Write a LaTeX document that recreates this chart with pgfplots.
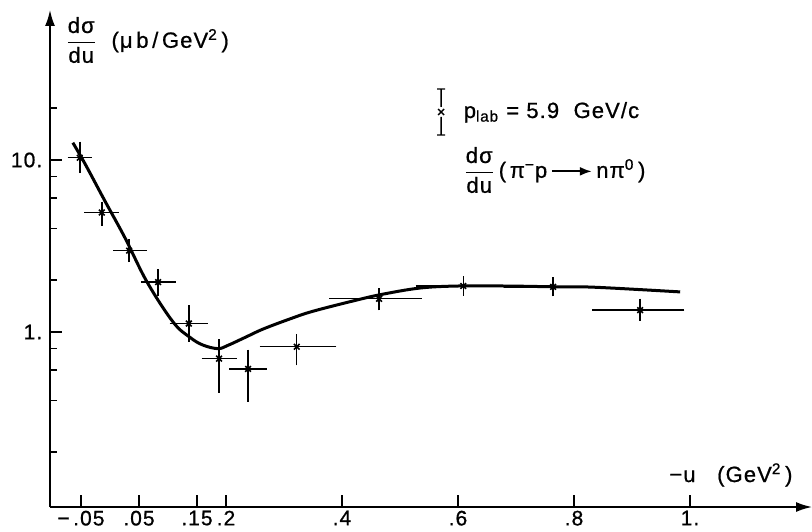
\documentclass[border=0pt]{standalone}
\usepackage{fontspec}
\setmainfont{Liberation Sans}[LetterSpace=5, FakeBold=0.8]
\usepackage{pgfplots}
\pgfplotsset{compat=1.18}
\usepackage{pgfplotstable}
\usetikzlibrary{calc,arrows.meta}

% -u, dsigma/du, asymmetric errors
\pgfplotstableread{
x       y      exm    exp    eym    eyp
-0.052  10.3   0.015  0.014  1.5    1.9
-0.014  4.95   0.024  0.023  0.6    0.5
 0.033  2.97   0.021  0.024  0.30   0.33
 0.083  1.95   0.023  0.024  0.24   0.25
 0.136  1.12   0.027  0.026  0.20   0.24
 0.188  0.70   0.024  0.024  0.235  0.165
 0.238  0.61   0.026  0.026  0.197  0.143
 0.322  0.82   0.058  0.062  0.15   0.11
 0.464  1.56   0.080  0.067  0.16   0.15
 0.609  1.85   0.076  0.077  0.14   0.16
 0.764  1.83   0.078  0.072  0.14   0.15
 0.914  1.34   0.076  0.070  0.12   0.15
}\datatable

\newcommand{\dsdu}{$\displaystyle\frac{\mbox{dσ}}{\mbox{du}}$}

\begin{document}
\fontsize{11}{13}\selectfont
\begin{tikzpicture}
\begin{axis}[name=ax, scale only axis, width=381pt, height=248.5pt,
  ymode=log, xmin=-0.1034, xmax=1.2103, ymin=0.096, ymax=74.5,
  axis lines=left, clip=false,
  axis line style={line width=0.9pt, -{Latex[length=8pt,width=5pt]}},
  tick align=inside, major tick length=6pt, minor tick length=3.5pt,
  tick style={line width=0.75pt, black},
  tick label style={font=\fontsize{10.5}{12}\selectfont},
  xticklabel style={yshift=2pt},
  xtick={-0.05,0.05,0.15,0.2,0.4,0.6,0.8,1},
  xticklabels={\mbox{−\,.05},\mbox{.05},\mbox{.15},\mbox{.2},\mbox{.4},\mbox{.6},\mbox{.8},\mbox{1.}},
  ytick={1,10}, yticklabels={\mbox{1.},\mbox{10.}},
  minor ytick={0.2,0.4,0.6,0.8,2,4,6,8,20}]
  \addplot[line width=1.5pt, smooth, tension=0.6] coordinates {
    (-0.064,12.6)(-0.043,9.5)(-0.009,5.8)(0.026,3.52)(0.064,1.95)(0.109,1.14)
    (0.138,0.93)(0.160,0.84)(0.186,0.80)(0.203,0.835)(0.2345,0.935)(0.264,1.04)
    (0.310,1.19)(0.35,1.32)(0.426,1.535)(0.471,1.66)(0.534,1.80)(0.598,1.85)
    (0.684,1.85)(0.771,1.83)(0.836,1.82)(0.983,1.71)};
  \addplot[only marks, mark=x, mark size=2pt, line width=0.8pt,
    error bars/.cd, x dir=both, x explicit, y dir=both, y explicit,
    error bar style={line width=0.7pt},
    error mark options={mark size=1.8pt, line width=0.7pt}]
    table[x=x, y=y, x error minus=exm, x error plus=exp,
      y error minus=eym, y error plus=eyp] {\datatable};
\end{axis}
% labels, placed from the axis corner (1pt = 2px of the reference)
\node[anchor=base west, inner sep=0pt] at ($(ax.south west)+(193pt,194.5pt)$)
  {\tikz[baseline=-3pt]{\draw[line width=0.7pt] (0pt,-11.5pt)--(0pt,-2.5pt) (0pt,2.5pt)--(0pt,11.5pt)
      (-2pt,-11.5pt)--(2pt,-11.5pt) (-2pt,11.5pt)--(2pt,11.5pt)
      (-1.5pt,-1.5pt)--(1.5pt,1.5pt) (-1.5pt,1.5pt)--(1.5pt,-1.5pt);}\hspace{9pt}p\textsubscript{lab} = 5.9\ \ GeV/c};
\node[anchor=west, inner sep=0pt] at ($(ax.south west)+(206.5pt,168.5pt)$)
  {\dsdu\,(\,π\textsuperscript{−}p\,\tikz[baseline=-0.55ex]\draw[line width=0.9pt,-{Latex[length=6pt,width=4.5pt]}] (0,0)--(20pt,0);\,nπ\textsuperscript{0}\,)};
\node[anchor=west, inner sep=0pt] at ($(ax.south west)+(7.5pt,233.5pt)$)
  {\dsdu\ \ (μ\,b\,/\,GeV\textsuperscript{2}\,)};
\node[anchor=base west, inner sep=0pt] at ($(ax.south west)+(309.5pt,12.5pt)$)
  {−u\ \ \ (GeV\textsuperscript{2}\,)};
\pgfresetboundingbox
\path[use as bounding box] ($(ax.south west)+(-25pt,-12pt)$) rectangle ($(ax.north east)+(0pt,5pt)$);
\end{tikzpicture}
\end{document}
